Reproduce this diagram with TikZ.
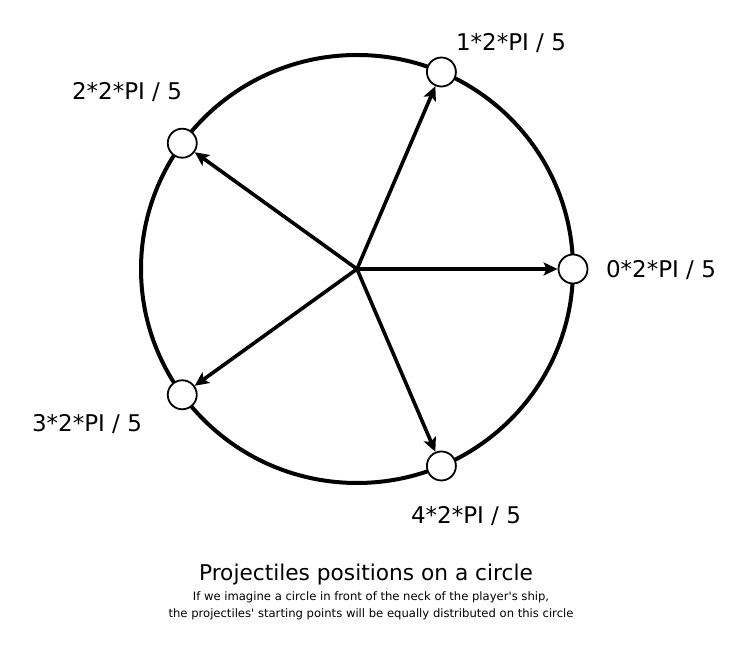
\documentclass[tikz,border=0pt]{standalone}
\usepackage{fontspec}
\setmainfont{DejaVu Sans}
\usetikzlibrary{arrows.meta,calc}
\tikzset{
  spot/.style={circle,draw,fill=white,line width=1.8pt,minimum size=29pt,inner sep=0pt},
  ray/.style={line width=3.6pt,-{Stealth[length=14pt,width=13pt,inset=3pt]}},
  angtext/.style={font=\fontsize{23}{26}\selectfont,inner sep=0pt},
}
\begin{document}
\begin{tikzpicture}[x=1pt,y=1pt]
        \useasboundingbox (0,0) rectangle (747,647);
        % circle
        \coordinate (c) at (357,378);
        \draw [line width=4pt] (c) ellipse [x radius=216,y radius=214];
        % spots
        \foreach \k/\a in {0/0,1/67,2/144,3/216,4/293}
          \node [spot] (p\k) at ($(c)+(\a:216 and 214)$) {};
        % rays
        \foreach \k in {0,...,4}
          \draw [ray] (c) -- (p\k);
        % labels
        \node [angtext] (l0) at (661,377) {0*2*PI / 5};
        \node [angtext] (l1) at (511,604) {1*2*PI / 5};
        \node [angtext] (l2) at (127,555) {2*2*PI / 5};
        \node [angtext] (l3) at (87,223) {3*2*PI / 5};
        \node [angtext] (l4) at (466,131) {4*2*PI / 5};
        % caption
        \node [font=\fontsize{21.7}{24}\selectfont,inner sep=0pt] (title) at (366,72) {Projectiles positions on a circle};
        \node [font=\fontsize{11.6}{17}\selectfont,align=center,inner sep=0pt] (note) at (371,41) {If we imagine a circle in front of the neck of the player\textquotesingle s ship,\\the projectiles\textquotesingle{} starting points will be equally distributed on this circle};
\end{tikzpicture}
\end{document}
